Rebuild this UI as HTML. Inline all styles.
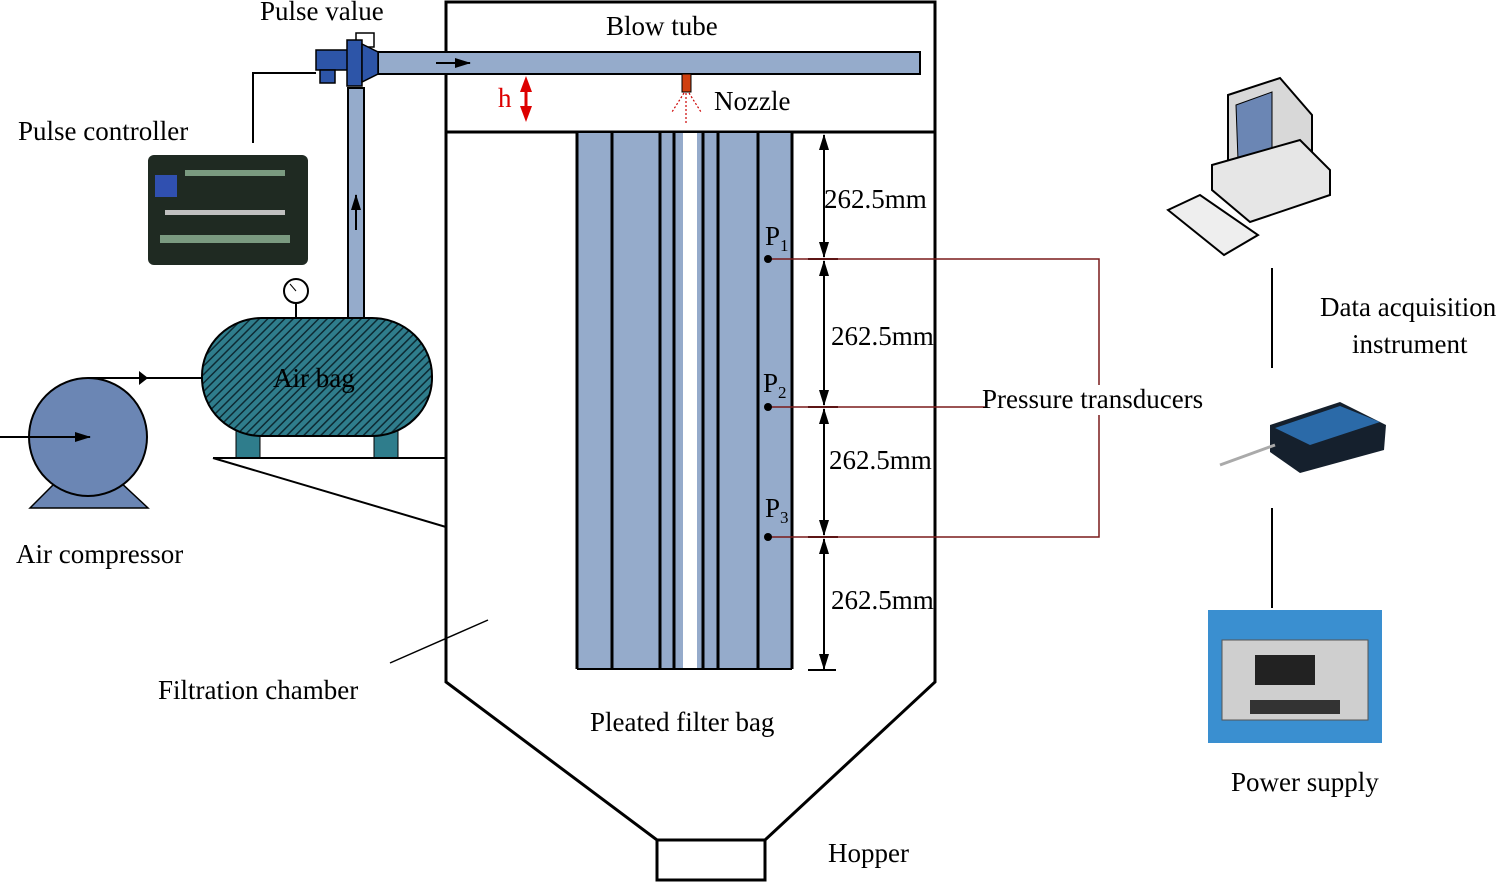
<!DOCTYPE html>
<html><head><style>body{margin:0;background:#fff}svg{display:block}text{font-family:"Liberation Serif",serif;font-size:27px;fill:#000}</style></head><body>
<svg width="1501" height="882" viewBox="0 0 1501 882" xmlns="http://www.w3.org/2000/svg">
<defs>
<pattern id="hatch" width="6" height="6" patternUnits="userSpaceOnUse" patternTransform="rotate(45)"><rect width="6" height="6" fill="#2f7d8c"/><line x1="0" y1="0" x2="0" y2="6" stroke="#0d2a33" stroke-width="3"/></pattern>
<marker id="ar" markerUnits="userSpaceOnUse" markerWidth="16" markerHeight="12" refX="15" refY="6" orient="auto"><path d="M0,1 L16,6 L0,11z" fill="#000"/></marker>
<marker id="as" markerUnits="userSpaceOnUse" markerWidth="16" markerHeight="12" refX="1" refY="6" orient="auto"><path d="M16,1 L0,6 L16,11z" fill="#000"/></marker>
</defs>
<g fill="none" stroke="#000" stroke-width="3">
<path d="M446,2 H935 V682 L765,840 H657 L446,682 Z"/>
<line x1="446" y1="132" x2="935" y2="132"/>
<rect x="657" y="840" width="108" height="40"/>
</g>
<rect x="378" y="52" width="542" height="22" fill="#95abcb" stroke="#000" stroke-width="2"/>
<line x1="436" y1="63" x2="470" y2="63" stroke="#000" stroke-width="2" marker-end="url(#ar)"/>
<rect x="348" y="88" width="16" height="230" fill="#95abcb" stroke="#000" stroke-width="2"/>
<line x1="356" y1="230" x2="356" y2="195" stroke="#000" stroke-width="2" marker-end="url(#ar)"/>
<rect x="356" y="33" width="18" height="14" fill="none" stroke="#000" stroke-width="1.5"/>
<rect x="316" y="50" width="32" height="20" fill="#2d55a8" stroke="#000" stroke-width="1.5"/>
<rect x="320" y="70" width="15" height="13" fill="#2d55a8" stroke="#000" stroke-width="1.5"/>
<rect x="347" y="40" width="15" height="46" fill="#2d55a8" stroke="#000" stroke-width="1.5"/>
<path d="M362,44 L378,52 V74 L362,82 Z" fill="#2d55a8" stroke="#000" stroke-width="1.5"/>
<polyline points="253,143 253,73 316,73" fill="none" stroke="#000" stroke-width="2"/>
<rect x="682" y="74" width="9" height="18" fill="#d04010" stroke="#000" stroke-width="1"/>
<g stroke="#c00" stroke-width="1.2" stroke-dasharray="2,2" fill="none"><line x1="686" y1="93" x2="686" y2="123"/><line x1="684" y1="93" x2="672" y2="112"/><line x1="689" y1="93" x2="701" y2="112"/></g>
<text x="714" y="110">Nozzle</text>
<text x="498" y="107" style="fill:#d00">h</text>
<path d="M526,76 L532,92 H520 Z M526,122 L532,106 H520 Z" fill="#d00"/><line x1="526" y1="90" x2="526" y2="108" stroke="#d00" stroke-width="3"/>
<text x="606" y="35">Blow tube</text>
<text x="260" y="20">Pulse value</text>
<rect x="577" y="133" width="215" height="536" fill="#95abcb"/>
<rect x="683" y="133" width="14" height="536" fill="#fff"/>
<g stroke="#000" stroke-width="3">
<line x1="577" y1="133" x2="577" y2="669"/><line x1="612" y1="133" x2="612" y2="669"/><line x1="660" y1="133" x2="660" y2="669"/><line x1="674" y1="133" x2="674" y2="669"/><line x1="703" y1="133" x2="703" y2="669"/><line x1="718" y1="133" x2="718" y2="669"/><line x1="758" y1="133" x2="758" y2="669"/><line x1="792" y1="133" x2="792" y2="669"/><line x1="577" y1="669" x2="792" y2="669" stroke-width="2"/>
</g>
<g stroke="#000" stroke-width="2">
<line x1="824" y1="135" x2="824" y2="257" marker-end="url(#ar)" marker-start="url(#as)"/>
<line x1="824" y1="261" x2="824" y2="405" marker-end="url(#ar)" marker-start="url(#as)"/>
<line x1="824" y1="409" x2="824" y2="535" marker-end="url(#ar)" marker-start="url(#as)"/>
<line x1="824" y1="539" x2="824" y2="669" marker-end="url(#ar)" marker-start="url(#as)"/>
<line x1="808" y1="259" x2="838" y2="259"/><line x1="808" y1="407" x2="838" y2="407"/><line x1="808" y1="537" x2="838" y2="537"/><line x1="808" y1="670" x2="836" y2="670"/>
</g>
<text x="824" y="208">262.5mm</text><text x="831" y="345">262.5mm</text><text x="829" y="469">262.5mm</text><text x="831" y="609">262.5mm</text>
<g stroke="#7a1a1a" stroke-width="1.5" fill="none">
<polyline points="768,259 1099,259 1099,385"/><polyline points="768,407 985,407"/><polyline points="768,537 1099,537 1099,415"/>
</g>
<circle cx="768" cy="259" r="4"/><circle cx="768" cy="407" r="4"/><circle cx="768" cy="537" r="4"/>
<text x="765" y="245">P<tspan font-size="17" dy="6">1</tspan></text>
<text x="763" y="392">P<tspan font-size="17" dy="6">2</tspan></text>
<text x="765" y="517">P<tspan font-size="17" dy="6">3</tspan></text>
<text x="982" y="408">Pressure transducers</text>
<rect x="236" y="430" width="24" height="28" fill="#2f7d8c" stroke="#000"/><rect x="374" y="430" width="24" height="28" fill="#2f7d8c" stroke="#000"/>
<rect x="202" y="318" width="230" height="118" rx="60" ry="58" fill="url(#hatch)" stroke="#000" stroke-width="2"/>
<text x="273" y="387">Air bag</text>
<line x1="296" y1="302" x2="296" y2="318" stroke="#000" stroke-width="2"/><circle cx="296" cy="291" r="12" fill="#fff" stroke="#000" stroke-width="2"/><line x1="296" y1="291" x2="290" y2="284" stroke="#000"/>
<line x1="213" y1="458" x2="446" y2="458" stroke="#000" stroke-width="2"/>
<line x1="213" y1="458" x2="446" y2="527" stroke="#000" stroke-width="2"/>
<path d="M30,508 L58,480 H118 L148,508 Z" fill="#6b86b4" stroke="#000" stroke-width="1.5"/>
<circle cx="88" cy="437" r="59" fill="#6b86b4" stroke="#000" stroke-width="2"/>
<line x1="0" y1="437" x2="90" y2="437" stroke="#000" stroke-width="2" marker-end="url(#ar)"/>
<polyline points="88,378 202,378" stroke="#000" stroke-width="2" fill="none"/><path d="M139,371 L148,378 L139,385Z"/>
<text x="16" y="563">Air compressor</text>
<text x="18" y="140">Pulse controller</text>
<rect x="148" y="155" width="160" height="110" rx="6" fill="#1f2a22"/><rect x="155" y="175" width="22" height="22" fill="#3050b0"/>
<g fill="#7a9a80"><rect x="185" y="170" width="100" height="6"/><rect x="160" y="235" width="130" height="8"/><rect x="165" y="210" width="120" height="5" fill="#c0c0c0"/></g>
<text x="158" y="699">Filtration chamber</text>
<line x1="390" y1="663" x2="488" y2="620" stroke="#000" stroke-width="1.5"/>
<text x="590" y="731">Pleated filter bag</text>
<text x="828" y="862">Hopper</text>
<path d="M1228,95 L1280,78 L1312,115 L1312,195 L1260,215 L1228,175 Z" fill="#d8d8d8" stroke="#000" stroke-width="2"/>
<path d="M1236,105 L1272,92 L1272,175 L1238,160Z" fill="#6b86b4" stroke="#000"/>
<path d="M1212,165 L1300,140 L1330,170 L1330,195 L1250,222 L1212,190Z" fill="#e6e6e6" stroke="#000" stroke-width="2"/>
<path d="M1168,210 L1200,195 L1258,235 L1224,255 Z" fill="#eee" stroke="#000" stroke-width="2"/>
<line x1="1272" y1="268" x2="1272" y2="368" stroke="#000" stroke-width="2"/>
<text x="1320" y="316">Data acquisition</text><text x="1352" y="353">instrument</text>
<path d="M1270,425 L1340,402 L1386,425 L1384,450 L1300,473 L1270,452Z" fill="#15202d"/><path d="M1275,428 L1340,406 L1380,422 L1310,445Z" fill="#2b6aa8"/>
<line x1="1220" y1="465" x2="1275" y2="445" stroke="#aaa" stroke-width="3"/>
<line x1="1272" y1="508" x2="1272" y2="608" stroke="#000" stroke-width="2"/>
<rect x="1208" y="610" width="174" height="133" fill="#3a8fd0"/><rect x="1222" y="640" width="146" height="80" fill="#cfcfcf" stroke="#555"/><rect x="1255" y="655" width="60" height="30" fill="#222"/><rect x="1250" y="700" width="90" height="14" fill="#333"/>
<text x="1231" y="791">Power supply</text>
</svg>
</body></html>
